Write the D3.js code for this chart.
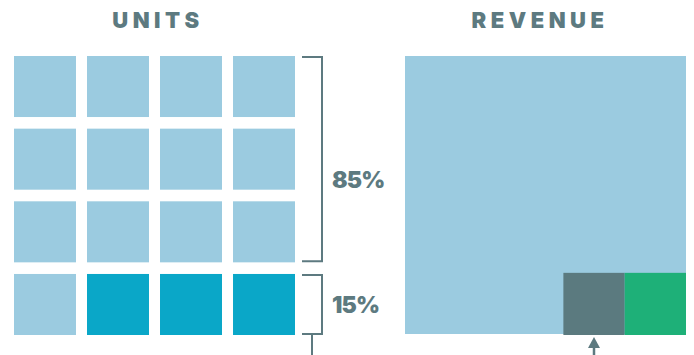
<!DOCTYPE html>
<html>
<head>
<meta charset="utf-8">
<script src="https://cdn.jsdelivr.net/npm/d3@7"></script>
<style>
  body { margin: 0; background: #fff; }
  text { font-family: Inter, 'Open Sans', sans-serif; font-weight: 900; fill: #5d7a80; }
</style>
</head>
<body>
<svg id="chart" width="694" height="355"></svg>
<script>
// units: 4x4 grid, 13 regular, 3 highlighted
const unitRows = [0, 1, 2, 3]
const unitCols = [0, 1, 2, 3]
const unitKinds = [
  'base', 'base', 'base', 'base',
  'base', 'base', 'base', 'base',
  'base', 'base', 'base', 'base',
  'base', 'hi', 'hi', 'hi'
]
const bracketLabels = ['85%', '15%']
const bracketRows = [[0, 2], [3, 3]]

// revenue shares of the square
const revenueNames = ['rest', 'grey', 'green']
const revenueShares = [0.904, 0.048, 0.048]
const stripShare = 0.22  // height of the bottom strip as share of the square

const titles = ['UNITS', 'REVENUE']

const colors = { base: '#9bcbe0', hi: '#0aa7c8', rest: '#9bcbe0', grey: '#5b7a7f', green: '#1eb078' }
const ink = '#5d7a80'

const svg = d3.select('#chart')

// ---- units grid
const x = d3.scaleBand().domain(unitCols).range([14, 295]).paddingInner(0.151).paddingOuter(0)
const y = d3.scaleBand().domain(unitRows).range([56, 335]).paddingInner(0.16).paddingOuter(0)

svg.selectAll('.unit')
  .data(unitKinds)
  .join('rect')
  .attr('class', 'unit')
  .attr('x', (d, i) => x(i % 4))
  .attr('y', (d, i) => y(Math.floor(i / 4)))
  .attr('width', x.bandwidth())
  .attr('height', y.bandwidth())
  .attr('fill', d => colors[d])

// brackets
const bx = 322
const bracket = svg.append('g').attr('fill', 'none').attr('stroke', ink).attr('stroke-width', 2)
bracketRows.forEach(([a, b], i) => {
  const top = y(a) + 1
  const bot = y(b) + y.bandwidth() - 1
  bracket.append('path').attr('d', `M${bx - 20},${top}H${bx}V${bot}H${bx - 20}`)
  // the big label sits a bit below the middle of its bracket
  const mid = i === 0 ? top + (bot - top) * 0.6 : (top + bot) / 2
  svg.append('text')
    .attr('x', bx + 10)
    .attr('y', mid)
    .attr('dy', '0.36em')
    .attr('font-size', 23)
    .attr('letter-spacing', -0.8)
    .text(bracketLabels[i])
})
const lastBot = y(3) + y.bandwidth() - 1
bracket.append('path').attr('d', `M${bx - 10},${lastBot}V355`)

// ---- revenue square
const rx = d3.scaleLinear().domain([0, 1]).range([405, 686])
const ry = d3.scaleLinear().domain([0, 1]).range([56, 334])

svg.append('rect')
  .attr('x', rx(0)).attr('y', ry(0))
  .attr('width', rx(1) - rx(0)).attr('height', ry(1) - ry(0))
  .attr('fill', colors.rest)

// small pieces sit in the bottom-right strip, laid out right-to-left
const pieces = revenueNames.slice(1).map((n, i) => ({ name: n, w: revenueShares[i + 1] / stripShare }))
let edge = 1
const placed = pieces.slice().reverse().map(p => { edge -= p.w; return { ...p, x0: edge } }).reverse()

svg.selectAll('.piece')
  .data(placed)
  .join('rect')
  .attr('class', 'piece')
  .attr('x', d => rx(d.x0))
  .attr('y', ry(1 - stripShare))
  .attr('width', d => rx(d.x0 + d.w) - rx(d.x0))
  .attr('height', ry(1) - ry(1 - stripShare) + 1)
  .attr('fill', d => colors[d.name])

// arrow under the grey piece
const g0 = placed[0]
const ax = Math.round(rx(g0.x0 + g0.w / 2))
svg.append('path').attr('d', `M${ax},344V355`).attr('stroke', ink).attr('stroke-width', 2.5)
svg.append('path').attr('d', `M${ax},337L${ax - 6},348H${ax + 6}Z`).attr('fill', ink)

// ---- titles
svg.selectAll('.title')
  .data(titles)
  .join('text')
  .attr('class', 'title')
  .attr('x', (d, i) => i === 0 ? 158 : 540)
  .attr('y', 28)
  .attr('text-anchor', 'middle')
  .attr('font-size', 22)
  .attr('letter-spacing', 4.5)
  .text(d => d)
</script>
</body>
</html>
